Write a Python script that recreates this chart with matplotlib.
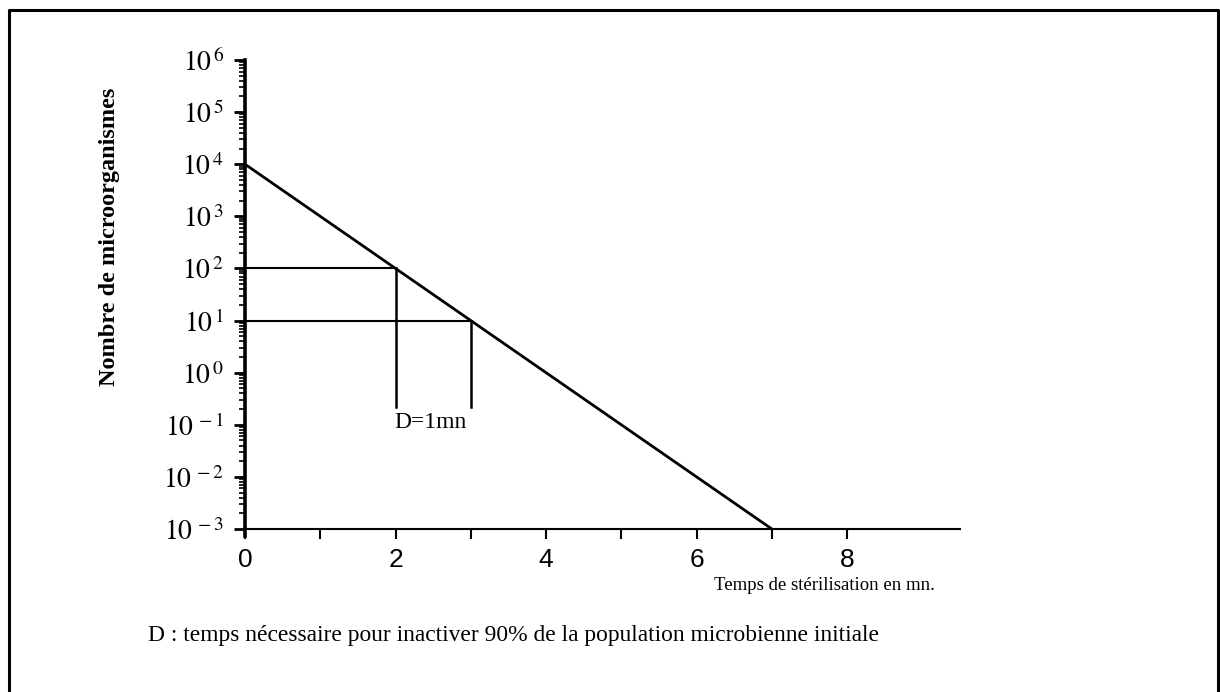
import numpy as np
import matplotlib
matplotlib.use('Agg')
import matplotlib.pyplot as plt
from matplotlib.ticker import FixedLocator, LogLocator, NullFormatter, FuncFormatter

# survival curve: log-linear decrease, D = 1 mn
line_x = [0, 7]
line_y = [1e4, 1e-3]

# construction lines for D
d_x = [2, 3]
d_y = [1e2, 1e1]
d_bottom = 10 ** -0.65

x_major = [0, 2, 4, 6, 8]
x_minor = [1, 3, 5, 7]
y_decades = list(range(-3, 7))

plt.rcParams['mathtext.fontset'] = 'stix'

fig = plt.figure(figsize=(12.2, 6.92), dpi=100)
W, H = 1220, 692

# frame around the whole figure (no bottom edge)
fig.add_artist(plt.Line2D([9 / W, 9 / W, 1218 / W, 1218 / W],
                          [0, 1 - 10 / H, 1 - 10 / H, 0],
                          color='black', lw=2.2, transform=fig.transFigure))

ax = fig.add_axes([245 / W, 1 - 529 / H, (960 - 245) / W, (529 - 60) / H])
ax.set_yscale('log')
ax.set_xlim(0, 9.5)
ax.set_ylim(1e-3, 1e6)

ax.spines['top'].set_visible(False)
ax.spines['right'].set_visible(False)
ax.spines['left'].set_linewidth(2.6)
ax.spines['bottom'].set_linewidth(1.5)

ax.plot(line_x, line_y, color='black', lw=2.0, clip_on=False)
for x, y in zip(d_x, d_y):
    ax.plot([0, x], [y, y], color='black', lw=1.5)
    ax.plot([x, x], [d_bottom, y], color='black', lw=1.8)

ax.text(2.47, 10 ** -0.95, 'D=1mn', ha='center', va='center',
        family='Liberation Serif', fontsize=17)

# x ticks
ax.xaxis.set_major_locator(FixedLocator(x_major))
ax.xaxis.set_minor_locator(FixedLocator(x_minor))
ax.tick_params(axis='x', which='both', direction='out', length=7, width=1.5)
ax.tick_params(axis='x', which='major', pad=7, labelsize=19,
               labelfontfamily='Liberation Sans')

# y ticks
ax.yaxis.set_major_locator(FixedLocator([10.0 ** k for k in y_decades]))
ax.yaxis.set_minor_locator(LogLocator(base=10, subs=np.arange(2, 10), numticks=20))
ax.yaxis.set_minor_formatter(NullFormatter())
ax.yaxis.set_major_formatter(FuncFormatter(
    lambda v, p: r'$10^{\,%d}$' % round(np.log10(v))))
ax.tick_params(axis='y', which='major', direction='out', length=8, width=2, pad=7,
               labelsize=20)
ax.tick_params(axis='y', which='minor', direction='out', length=4, width=1.2)

# slight extension of the y axis below the x axis
ax.plot([0, 0], [-0.015, 0], transform=ax.transAxes, color='black', lw=2.6,
        clip_on=False)

fig.text(110 / W, 1 - 237 / H, 'Nombre de microorganismes', rotation=90,
         ha='center', va='center', family='Liberation Serif',
         fontweight='bold', fontsize=17.5)
fig.text(935 / W, 1 - 585 / H, 'Temps de stérilisation en mn.', ha='right',
         va='center', family='Liberation Serif', fontsize=13.5)
fig.text(148 / W, 1 - 635 / H,
         'D : temps nécessaire pour inactiver 90% de la population microbienne initiale',
         ha='left', va='center', family='Liberation Serif', fontsize=16.9)

fig.savefig('out.png', dpi=100)
